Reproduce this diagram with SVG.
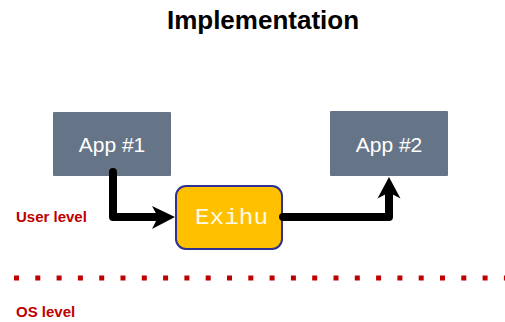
<svg xmlns="http://www.w3.org/2000/svg" width="505" height="322" viewBox="0 0 505 322">
<style>
.app{fill:#657587;}
.applbl{font-family:"Liberation Sans",Arial,sans-serif;font-size:21px;fill:#ffffff;text-anchor:middle;}
.lvl{font-family:"Liberation Sans",Arial,sans-serif;font-size:15px;font-weight:bold;fill:#C00000;}
.conn{fill:none;stroke:#000000;stroke-width:8;stroke-linejoin:round;stroke-linecap:round;}
</style>
<rect width="505" height="322" fill="#ffffff"/>
<text x="263" y="29" font-family="'Liberation Sans',Arial,sans-serif" font-size="26" font-weight="bold" text-anchor="middle" fill="#000000">Implementation</text>
<g id="app1">
<rect class="app" x="53" y="112" width="118" height="64" rx="1"/>
<text class="applbl" x="112" y="152">App #1</text>
</g>
<g id="app2">
<rect class="app" x="330" y="111" width="118" height="65" rx="1"/>
<text class="applbl" x="389" y="152">App #2</text>
</g>
<g id="exihu">
<rect x="176" y="186" width="106" height="63" rx="10" fill="#FFC000" stroke="#2E3192" stroke-width="2"/>
<text x="195" y="223.5" font-family="'Liberation Mono','Courier New',monospace" font-size="22" fill="#FFFBEA" textLength="73" lengthAdjust="spacingAndGlyphs">Exihu</text>
</g>
<g id="connectors">
<path class="conn" d="M113,172 L113,217 L160,217" />
<path d="M175,217 L152,206 L158,217 L152,229 Z" fill="#000000"/>
<path class="conn" d="M283,217 L389,217 L389,192" />
<path d="M389,177 L377.5,198.5 L389,192.5 L400.5,198.5 Z" fill="#000000"/>
</g>
<g id="levels">
<line x1="14" y1="278" x2="505" y2="278" stroke="#C00000" stroke-width="5" stroke-dasharray="5 16.3"/>
<text class="lvl" x="16" y="222">User level</text>
<text class="lvl" x="16" y="317">OS level</text>
</g>
</svg>
